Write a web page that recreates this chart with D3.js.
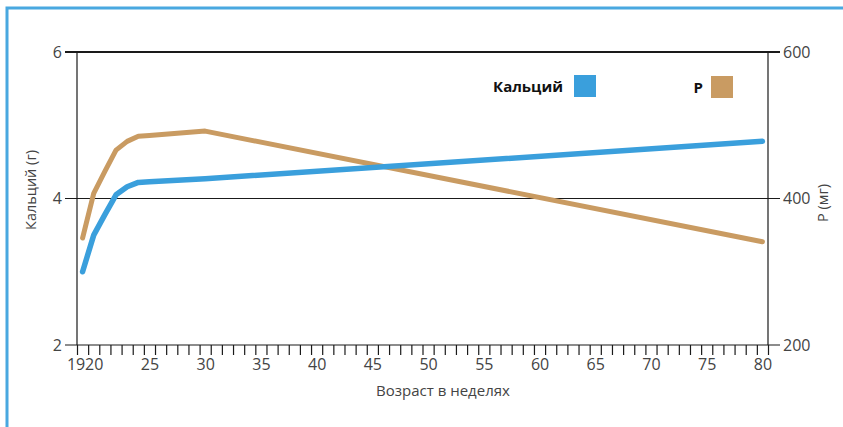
<!DOCTYPE html>
<html lang="ru">
<head>
<meta charset="utf-8">
<script src="https://cdn.jsdelivr.net/npm/d3@7/dist/d3.min.js"></script>
<style>
  html, body { margin: 0; padding: 0; background: #fff; }
  svg { display: block; font-family: "Open Sans", "Noto Sans", sans-serif; }
</style>
</head>
<body>
<svg id="chart" width="843" height="427"></svg>
<script>
// Age in weeks
const weeks = [19, 20, 21, 22, 23, 24, 25, 30, 80];
// Calcium, g (left axis)
const calcium = [3.00, 3.50, 3.78, 4.05, 4.16, 4.22, 4.23, 4.27, 4.78];
// Phosphorus, mg (right axis)
const phosphorus = [346, 407, 437, 466, 478, 485, 486, 492, 341];

const xLabels = [19, 20, 25, 30, 35, 40, 45, 50, 55, 60, 65, 70, 75, 80];
const leftTicks = [2, 4, 6];
const rightTicks = [200, 400, 600];

const COLOR_CA = "#3a9fdc";
const COLOR_P = "#c99b62";
const FRAME = "#49a8e0";
const AXIS = "#1a1a1a";
const TEXT = "#444";
const FONT = "'Open Sans', 'Noto Sans', sans-serif";

const svg = d3.select("#chart");

// Frame along the top and left edges
svg.append("path")
  .attr("d", "M7,427 L7,8 L843,8")
  .attr("fill", "none")
  .attr("stroke", FRAME)
  .attr("stroke-width", 3);

const x = d3.scaleLinear().domain([18.5, 80.5]).range([77, 768]);
const yL = d3.scaleLinear().domain([2, 6]).range([345, 52]);
const yR = d3.scaleLinear().domain([200, 600]).range([345, 52]);

// Horizontal rules at each left-axis tick, running tick-end to tick-end
svg.append("g").selectAll("line")
  .data(leftTicks)
  .join("line")
  .attr("x1", x.range()[0] - 12)
  .attr("x2", x.range()[1] + 12)
  .attr("y1", d => yL(d))
  .attr("y2", d => yL(d))
  .attr("stroke", AXIS)
  .attr("stroke-width", d => d === 6 ? 1.8 : 1.2);

// Vertical spines
[x.range()[0], x.range()[1]].forEach(px => {
  svg.append("line")
    .attr("x1", px).attr("x2", px)
    .attr("y1", yL(6)).attr("y2", yL(2))
    .attr("stroke", AXIS).attr("stroke-width", 1.2);
});

// Left axis labels
const leftAxis = svg.append("g")
  .attr("transform", `translate(${x.range()[0]},0)`)
  .call(d3.axisLeft(yL).tickValues(leftTicks).tickSize(12).tickPadding(3).tickFormat(d3.format("d")));
leftAxis.select(".domain").remove();
leftAxis.selectAll(".tick line").remove();
leftAxis.selectAll("text").attr("fill", TEXT).style("font-size", "16px").style("font-family", FONT);

// Right axis labels
const rightAxis = svg.append("g")
  .attr("transform", `translate(${x.range()[1]},0)`)
  .call(d3.axisRight(yR).tickValues(rightTicks).tickSize(12).tickPadding(3).tickFormat(d3.format("d")));
rightAxis.select(".domain").remove();
rightAxis.selectAll(".tick line").remove();
rightAxis.selectAll("text").attr("fill", TEXT).style("font-size", "16px").style("font-family", FONT);

// Bottom axis: a tick at every week boundary
const weekEdges = d3.range(18.5, 80.51, 1);
const bottomTicks = svg.append("g")
  .attr("transform", `translate(0,${yL(2)})`)
  .call(d3.axisBottom(x).tickValues(weekEdges).tickSize(10).tickFormat(""));
bottomTicks.select(".domain").remove();
bottomTicks.selectAll(".tick line").attr("stroke", AXIS).attr("stroke-width", 1.2);

// Week labels centred on each week
const bottomLabels = svg.append("g")
  .attr("transform", `translate(0,${yL(2)})`)
  .call(d3.axisBottom(x).tickValues(xLabels).tickSize(0).tickPadding(14).tickFormat(d3.format("d")));
bottomLabels.select(".domain").remove();
bottomLabels.selectAll("text").attr("fill", TEXT).style("font-size", "16px").style("font-family", FONT)
  .attr("dx", d => d === 19 ? -7 : 0);

// Axis titles
svg.append("text")
  .attr("transform", `translate(36,190) rotate(-90)`)
  .attr("text-anchor", "middle")
  .attr("fill", TEXT).style("font-size", "14.5px")
  .text("Кальций (г)");

svg.append("text")
  .attr("transform", `translate(828,203) rotate(-90)`)
  .attr("text-anchor", "middle")
  .attr("fill", TEXT).style("font-size", "14.5px")
  .text("Р (мг)");

svg.append("text")
  .attr("x", 443).attr("y", 396)
  .attr("text-anchor", "middle")
  .attr("fill", TEXT).style("font-size", "15px")
  .text("Возраст в неделях");

// Series lines
const lineCa = d3.line().x((d, i) => x(weeks[i])).y(d => yL(d));
const lineP = d3.line().x((d, i) => x(weeks[i])).y(d => yR(d));

svg.append("path")
  .datum(phosphorus)
  .attr("d", lineP)
  .attr("fill", "none")
  .attr("stroke", COLOR_P)
  .attr("stroke-width", 5)
  .attr("stroke-linecap", "round")
  .attr("stroke-linejoin", "round");

svg.append("path")
  .datum(calcium)
  .attr("d", lineCa)
  .attr("fill", "none")
  .attr("stroke", COLOR_CA)
  .attr("stroke-width", 5.5)
  .attr("stroke-linecap", "round")
  .attr("stroke-linejoin", "round");

// Legend
const legend = [
  { label: "Кальций", color: COLOR_CA, textRight: 563, box: 574, y: 75 },
  { label: "Р", color: COLOR_P, textRight: 703, box: 711, y: 76 }
];
const lg = svg.append("g");
lg.selectAll("text")
  .data(legend)
  .join("text")
  .attr("x", d => d.textRight)
  .attr("y", d => d.y + 17)
  .attr("text-anchor", "end")
  .attr("fill", "#111")
  .style("font-size", "15px")
  .style("font-weight", "bold")
  .text(d => d.label);
lg.selectAll("rect")
  .data(legend)
  .join("rect")
  .attr("x", d => d.box)
  .attr("y", d => d.y)
  .attr("width", 22)
  .attr("height", 22)
  .attr("fill", d => d.color);
</script>
</body>
</html>
